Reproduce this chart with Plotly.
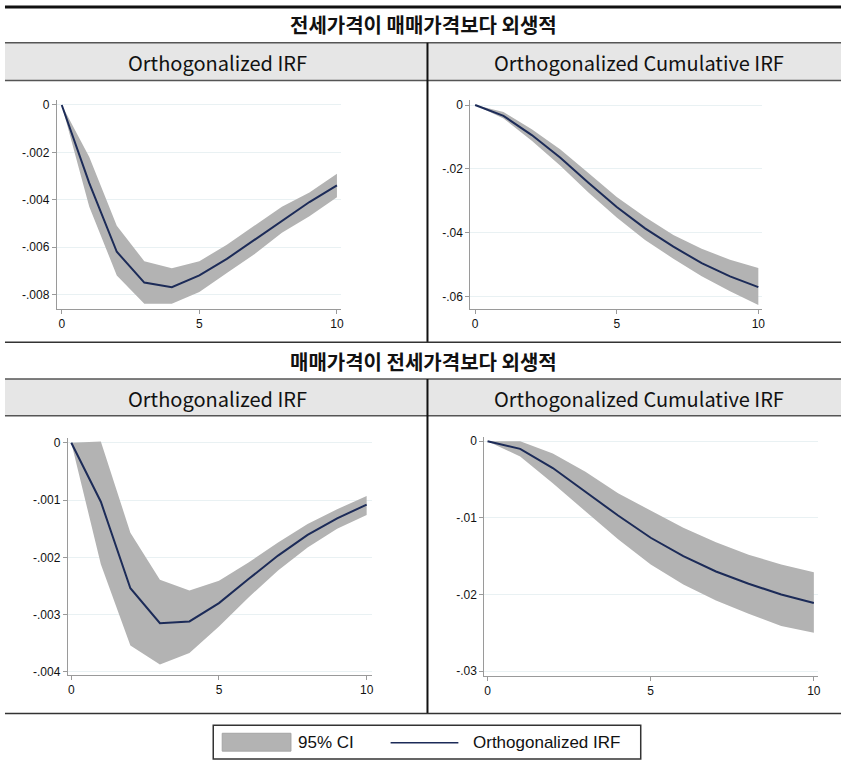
import plotly.graph_objects as go

W, H = 848, 772

# ---------------- data ----------------
steps = [0, 1, 2, 3, 4, 5, 6, 7, 8, 9, 10]

# Panel 1: 전세가격이 매매가격보다 외생적 - Orthogonalized IRF
irf_a = [0, -0.0033, -0.0062, -0.0075, -0.0077, -0.0072, -0.0065, -0.0057, -0.0049, -0.0041, -0.0034]
up_a = [0, -0.0022, -0.0051, -0.0066, -0.0069, -0.0066, -0.0059, -0.0051, -0.0043, -0.0037, -0.0029]
lo_a = [0, -0.0043, -0.0072, -0.0084, -0.0084, -0.0079, -0.0071, -0.0063, -0.0054, -0.0047, -0.0039]

# Panel 2: 전세가격이 매매가격보다 외생적 - Orthogonalized Cumulative IRF
irf_b = [0, -0.0034, -0.0094, -0.0164, -0.0243, -0.0319, -0.0386, -0.0443, -0.0495, -0.0536, -0.0570]
up_b = [0, -0.0022, -0.0076, -0.0138, -0.0213, -0.0288, -0.0350, -0.0407, -0.0450, -0.0484, -0.0510]
lo_b = [0, -0.0042, -0.0112, -0.0189, -0.0274, -0.0352, -0.0422, -0.0481, -0.0536, -0.0583, -0.0626]

# Panel 3: 매매가격이 전세가격보다 외생적 - Orthogonalized IRF
irf_c = [0, -0.00103, -0.00254, -0.00315, -0.00312, -0.00280, -0.00238, -0.00197, -0.00161, -0.00132, -0.00108]
up_c = [0, 0.00002, -0.00157, -0.00239, -0.00258, -0.00241, -0.00209, -0.00174, -0.00142, -0.00116, -0.00093]
lo_c = [0, -0.00212, -0.00354, -0.00387, -0.00367, -0.00321, -0.00270, -0.00223, -0.00183, -0.00150, -0.00126]

# Panel 4: 매매가격이 전세가격보다 외생적 - Orthogonalized Cumulative IRF
irf_d = [0, -0.0010, -0.0035, -0.0066, -0.0097, -0.0126, -0.0150, -0.0170, -0.0186, -0.0200, -0.0211]
up_d = [0, 0.0000, -0.0016, -0.0040, -0.0068, -0.0091, -0.0113, -0.0132, -0.0148, -0.0161, -0.0171]
lo_d = [0, -0.0020, -0.0055, -0.0091, -0.0128, -0.0161, -0.0187, -0.0208, -0.0225, -0.0241, -0.0250]

yt_a = [0, -0.002, -0.004, -0.006, -0.008]
yl_a = ["0", "-.002", "-.004", "-.006", "-.008"]
yt_b = [0, -0.02, -0.04, -0.06]
yl_b = ["0", "-.02", "-.04", "-.06"]
yt_c = [0, -0.001, -0.002, -0.003, -0.004]
yl_c = ["0", "-.001", "-.002", "-.003", "-.004"]
yt_d = [0, -0.01, -0.02, -0.03]
yl_d = ["0", "-.01", "-.02", "-.03"]
xt = [0, 5, 10]
xl = ["0", "5", "10"]

title_top = "전세가격이 매매가격보다 외생적"
title_bot = "매매가격이 전세가격보다 외생적"
head_left = "Orthogonalized IRF"
head_right = "Orthogonalized Cumulative IRF"
leg_ci = "95% CI"
leg_irf = "Orthogonalized IRF"

# ---------------- styling ----------------
BAND = "#B3B3B3"
NAVY = "#1c2b58"
GRID = "#E9F1F3"
AXC = "#9a9a9a"
SANS = "Liberation Sans"
TICKFONT = dict(family=SANS, size=12, color="#111111")
KFONT = "Noto Sans CJK KR"


def px(x):
    return x / W


def py(y):
    return 1 - y / H


fig = go.Figure()

panels = [
    (irf_a, up_a, lo_a, yt_a, yl_a, (57, 342, 99, 309), [-0.0086, 0.0002], [-0.18, 10.14]),
    (irf_b, up_b, lo_b, yt_b, yl_b, (472, 765, 99, 309), [-0.0637, 0.0015], [-0.17, 10.14]),
    (irf_c, up_c, lo_c, yt_c, yl_c, (68, 373, 439, 678), [-0.00405, 0.00009], [-0.12, 10.17]),
    (irf_d, up_d, lo_d, yt_d, yl_d, (486, 821, 438, 679), [-0.0306, 0.0006], [-0.10, 10.13]),
]

layout_axes = {}
for i, (irf, up, lo, yt, yl, box, yr, xr) in enumerate(panels, start=1):
    xa = "x" if i == 1 else f"x{i}"
    ya = "y" if i == 1 else f"y{i}"
    fig.add_trace(go.Scatter(
        x=steps + steps[::-1], y=up + lo[::-1], xaxis=xa, yaxis=ya,
        fill="toself", fillcolor=BAND, line=dict(width=0, color=BAND),
        mode="lines", hoverinfo="skip", showlegend=False, name=leg_ci))
    fig.add_trace(go.Scatter(
        x=steps, y=irf, xaxis=xa, yaxis=ya, mode="lines",
        line=dict(color=NAVY, width=2), showlegend=False, name=leg_irf))
    x0, x1, y0, y1 = box
    xkey = "xaxis" if i == 1 else f"xaxis{i}"
    ykey = "yaxis" if i == 1 else f"yaxis{i}"
    layout_axes[xkey] = dict(
        domain=[px(x0), px(x1)], range=xr, anchor=ya,
        tickvals=xt, ticktext=xl, ticks="outside", ticklen=4, tickcolor=AXC,
        showline=True, linecolor=AXC, linewidth=1, showgrid=False, zeroline=False,
        tickfont=TICKFONT, fixedrange=True)
    layout_axes[ykey] = dict(
        domain=[py(y1), py(y0)], range=yr, anchor=xa,
        tickvals=yt, ticktext=yl, ticks="outside", ticklen=4, tickcolor=AXC,
        showline=True, linecolor=AXC, linewidth=1, showgrid=True, gridcolor=GRID,
        gridwidth=1, zeroline=False, tickfont=TICKFONT, fixedrange=True)

shapes = []


def hline(y, x0=5, x1=844, color="#333333", width=1.5):
    shapes.append(dict(type="line", xref="paper", yref="paper",
                       x0=px(x0), x1=px(x1), y0=py(y), y1=py(y),
                       line=dict(color=color, width=width)))


def vline(x, y0, y1, color="#111111", width=2):
    shapes.append(dict(type="line", xref="paper", yref="paper",
                       x0=px(x), x1=px(x), y0=py(y0), y1=py(y1),
                       line=dict(color=color, width=width)))


def rect(x0, x1, y0, y1, fill, lcolor=None, lwidth=0):
    shapes.append(dict(type="rect", xref="paper", yref="paper",
                       x0=px(x0), x1=px(x1), y0=py(y1), y1=py(y0),
                       fillcolor=fill, line=dict(color=lcolor or fill, width=lwidth),
                       layer="below"))


# header bands
rect(5, 844, 41, 79, "#E6E6E6")
rect(5, 844, 380, 417, "#E6E6E6")
# table lines
hline(5, width=3, color="#111111")
hline(41, color="#555555")
hline(79, color="#555555")
vline(429, 41, 343)
hline(343, color="#333333")
hline(380, color="#555555")
hline(417, color="#555555")
vline(429, 380, 717)
hline(717, color="#333333")

# legend
shapes.append(dict(type="rect", xref="paper", yref="paper",
                   x0=px(214), x1=px(643), y0=py(763), y1=py(729),
                   fillcolor="white", line=dict(color="#333333", width=1.5)))
shapes.append(dict(type="rect", xref="paper", yref="paper",
                   x0=px(223), x1=px(292), y0=py(755), y1=py(737),
                   fillcolor=BAND, line=dict(color="#A5A5A5", width=1)))
shapes.append(dict(type="line", xref="paper", yref="paper",
                   x0=px(392), x1=px(460), y0=py(746.5), y1=py(746.5),
                   line=dict(color=NAVY, width=1.5)))

annotations = []


def text(x, y, s, size, family, bold=False, xanchor="center", color="#111111"):
    annotations.append(dict(
        x=px(x), y=py(y), xref="paper", yref="paper", text=s, showarrow=False,
        xanchor=xanchor, yanchor="middle",
        font=dict(family=family, size=size, color=color, weight=700 if bold else 400)))


text(425, 23, title_top, 20, KFONT, bold=True)
text(425, 362, title_bot, 20, KFONT, bold=True)
text(218, 61, head_left, 20, KFONT)
text(641, 61, head_right, 20, KFONT)
text(218, 400, head_left, 20, KFONT)
text(641, 400, head_right, 20, KFONT)
text(297, 746.5, leg_ci, 17, SANS, xanchor="left")
text(473, 746.5, leg_irf, 17, SANS, xanchor="left")

fig.update_layout(
    width=W, height=H, margin=dict(l=0, r=0, t=0, b=0),
    paper_bgcolor="white", plot_bgcolor="white",
    showlegend=False, shapes=shapes, annotations=annotations,
    **layout_axes)

fig.write_html("out.html", config={"displayModeBar": False},
               post_script="document.body.style.margin='0';document.body.style.overflow='hidden';")
